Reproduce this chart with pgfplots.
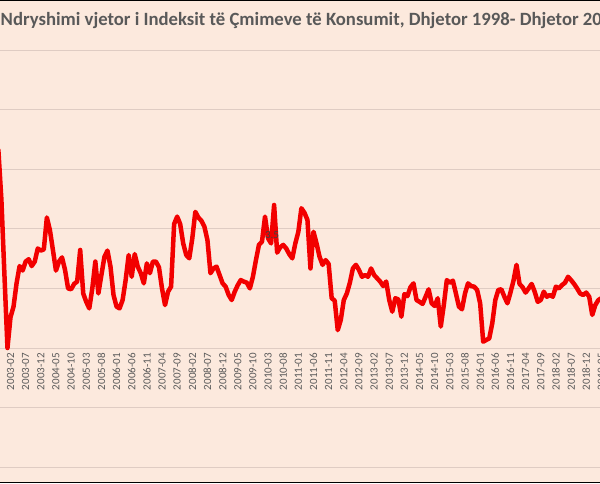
\documentclass[border=0pt]{standalone}
\usepackage{pgfplots}
\pgfplotsset{compat=1.18}
\usepackage{fontspec}
\setmainfont{Carlito}
\definecolor{bgc}{HTML}{FCE9DD}
\definecolor{gridc}{HTML}{DFCCC3}
\definecolor{txt}{HTML}{595959}
\definecolor{linec}{HTML}{F20000}
\begin{document}
\begin{tikzpicture}
\useasboundingbox (0,0) rectangle (600pt,483pt);
\clip (0,0) rectangle (600pt,483pt);
\fill[bgc] (0,0) rectangle (600pt,483pt);
\begin{axis}[
  at={(-4.65pt,0)}, anchor=south west,
  scale only axis, width=609.03pt, height=483pt,
  xmin=-5, xmax=196,
  ymin=-4.530, ymax=11.678,
  axis line style={draw=none},
  ytick={-4,-2,0,2,4,6,8,10},
  yticklabels={},
  ymajorgrids,
  grid style={gridc, line width=1pt},
  major tick length=0pt,
  xtick={0,5,...,195},
  xticklabels={2003-02,2003-07,2003-12,2004-05,2004-10,2005-03,2005-08,2006-01,2006-06,2006-11,2007-04,2007-09,2008-02,2008-07,2008-12,2009-05,2009-10,2010-03,2010-08,2011-01,2011-06,2011-11,2012-04,2012-09,2013-02,2013-07,2013-12,2014-05,2014-10,2015-03,2015-08,2016-01,2016-06,2016-11,2017-04,2017-09,2018-02,2018-07,2018-12,2019-05},
  xticklabel style={rotate=90, anchor=east, inner sep=1pt, font=\fontsize{11}{13}\selectfont, text=txt},
  xticklabel shift=-131pt,
  clip=true,
]
\addplot[linec, line width=4.5pt, line join=round, line cap=round] coordinates {
(-4,6.64) (-3,4.97) (-2,2.45) (-1,0.0)
(0,1.03) (1,1.39) (2,2.17) (3,2.75) (4,2.60) (5,2.90) (6,2.98) (7,2.75) (8,2.90) (9,3.34)
(10,3.27) (11,3.31) (12,4.38) (13,3.96) (14,3.29) (15,2.60) (16,2.90) (17,3.04) (18,2.62) (19,2.00)
(20,1.97) (21,2.15) (22,2.23) (23,3.29) (24,1.83) (25,1.55) (26,1.33) (27,2.00) (28,2.90) (29,1.83)
(30,2.45) (31,3.06) (32,3.27) (33,2.73) (34,1.78) (35,1.39) (36,1.33) (37,1.61) (38,2.28) (39,3.12)
(40,2.39) (41,3.15) (42,2.73) (43,2.51) (44,2.17) (45,2.84) (46,2.51) (47,2.90) (48,2.90) (49,2.71)
(50,2.00) (51,1.44) (52,1.89) (53,2.06) (54,4.16) (55,4.41) (56,4.16) (57,3.51) (58,3.12) (59,3.01)
(60,3.68) (61,4.57) (62,4.38) (63,4.27) (64,4.07) (65,3.62) (66,2.51) (67,2.67) (68,2.73) (69,2.45)
(70,2.17) (71,2.06) (72,1.78) (73,1.61) (74,1.89) (75,2.11) (76,2.28) (77,2.23) (78,2.19) (79,2.00)
(80,2.39) (81,2.95) (82,3.46) (83,3.57) (84,4.41) (85,3.68) (86,3.51) (87,4.80) (88,3.20) (89,3.38)
(90,3.46) (91,3.34) (92,3.15) (93,3.01) (94,3.51) (95,3.90) (96,4.69) (97,4.54) (98,4.30) (99,2.67)
(100,3.90) (101,3.51) (102,3.06) (103,2.79) (104,2.95) (105,2.82) (106,1.67) (107,1.59) (108,0.60) (109,0.94)
(110,1.61) (111,1.83) (112,2.19) (113,2.67) (114,2.79) (115,2.62) (116,2.39) (117,2.45) (118,2.39) (119,2.67)
(120,2.45) (121,2.34) (122,2.23) (123,2.08) (124,2.23) (125,1.61) (126,1.22) (127,1.67) (128,1.63) (129,1.05)
(130,1.81) (131,1.74) (132,2.04) (133,2.17) (134,1.61) (135,1.55) (136,1.48) (137,1.72) (138,1.97) (139,1.50)
(140,1.41) (141,1.67) (142,0.72) (143,1.44) (144,2.28) (145,2.19) (146,2.26) (147,1.83) (148,1.39) (149,1.30)
(150,1.83) (151,2.17) (152,2.08) (153,2.06) (154,1.95) (155,1.50) (156,0.21) (157,0.27) (158,0.32) (159,0.83)
(160,1.61) (161,1.95) (162,1.97) (163,1.72) (164,1.50) (165,1.86) (166,2.26) (167,2.79) (168,2.15) (169,2.04)
(170,1.86) (171,2.00) (172,2.15) (173,1.89) (174,1.55) (175,1.61) (176,1.89) (177,1.72) (178,1.78) (179,1.72)
(180,2.06) (181,2.00) (182,2.11) (183,2.19) (184,2.39) (185,2.28) (186,2.15) (187,2.00) (188,1.83) (189,1.78)
(190,1.86) (191,1.72) (192,1.11) (193,1.44) (194,1.61) (195,1.67) (196,1.70)
};
\node[text=black!75, font=\fontsize{11}{13}\selectfont, inner sep=0pt] at (axis cs:86.3,3.79) {3.5};
\end{axis}
\node[anchor=base west, inner sep=0pt, text=txt, font=\fontsize{18.7}{22}\selectfont\bfseries] at (0.5pt,457.5pt) {Ndryshimi vjetor i Indeksit të Çmimeve të Konsumit, Dhjetor 1998- Dhjetor 2019};
\fill[black] (0,481.5pt) rectangle (600pt,483pt);
\fill[black] (0,0) rectangle (600pt,1.3pt);
\end{tikzpicture}
\end{document}
